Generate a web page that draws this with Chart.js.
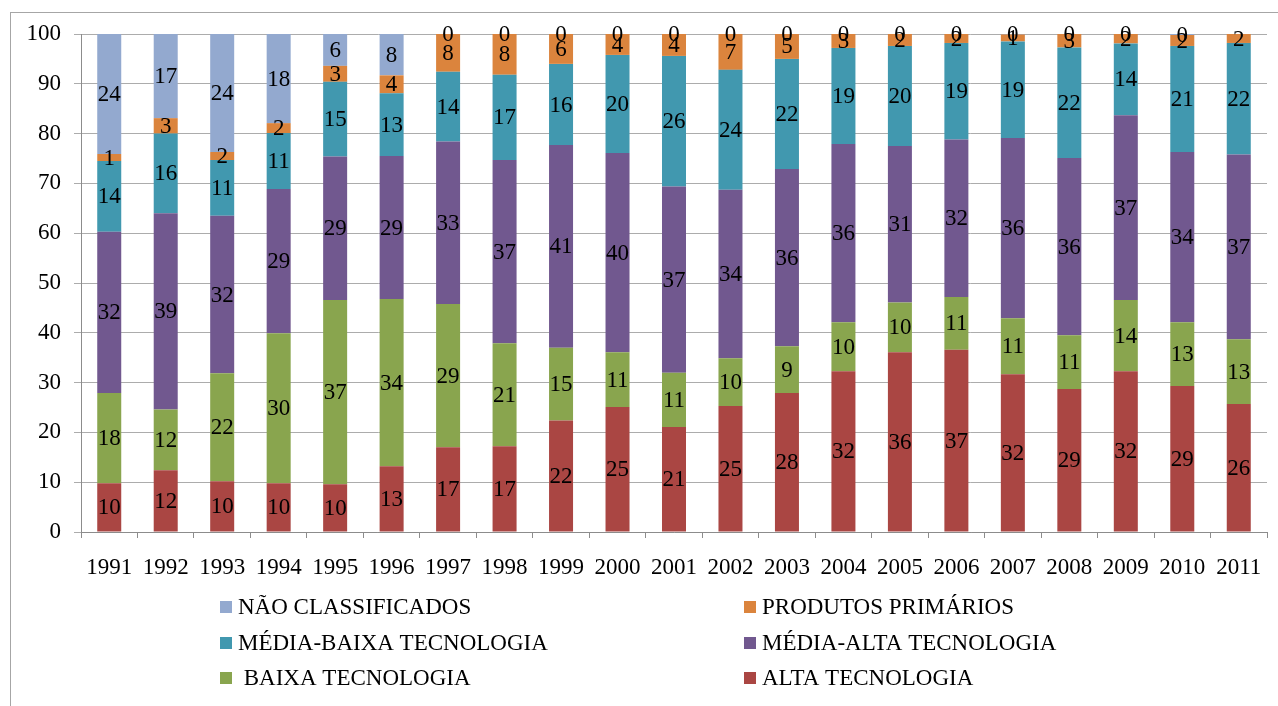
<!DOCTYPE html>
<html lang="pt">
<head>
<meta charset="utf-8">
<title>Exportações por intensidade tecnológica, 1991–2011</title>
<script src="https://cdn.jsdelivr.net/npm/chart.js@4/dist/chart.umd.min.js"></script>
<style>
  html, body { margin: 0; padding: 0; background: #ffffff; }
  #wrap { width: 1278px; height: 706px; }
</style>
</head>
<body>
<div id="wrap"><canvas id="chart" width="1278" height="706"></canvas></div>
<script>
// Years on the category axis
const years = ['1991','1992','1993','1994','1995','1996','1997','1998','1999','2000',
               '2001','2002','2003','2004','2005','2006','2007','2008','2009','2010','2011'];

// Share of each technology group (%), stacked from the bottom up
const altaTec      = [9.8, 12.4, 10.2, 9.8, 9.6, 13.2, 17.0, 17.2, 22.4, 25.1, 21.1, 25.3, 27.9, 32.3, 36.1, 36.6, 31.7, 28.7, 32.3, 29.3, 25.7];
const baixaTec     = [18.1, 12.2, 21.7, 30.1, 37.0, 33.6, 28.8, 20.7, 14.6, 11.0, 10.9, 9.6, 9.4, 9.8, 10.0, 10.6, 11.2, 10.8, 14.3, 12.8, 13.0];
const mediaAltaTec = [32.4, 39.4, 31.6, 29.0, 28.8, 28.7, 32.6, 36.8, 40.7, 40.0, 37.4, 33.8, 35.6, 35.8, 31.4, 31.6, 36.2, 35.6, 37.1, 34.2, 37.1];
const mediaBaixaTec= [14.2, 16.0, 11.2, 11.2, 15.0, 12.6, 14.0, 17.1, 16.3, 19.7, 26.2, 24.1, 22.1, 19.3, 20.1, 19.4, 19.4, 22.2, 14.4, 21.3, 22.4];
const primarios    = [1.4, 3.1, 1.6, 2.0, 3.2, 3.6, 7.6, 8.2, 6.0, 4.2, 4.4, 7.2, 5.0, 2.8, 2.4, 1.8, 1.4, 2.7, 1.9, 2.2, 1.8];
const naoClass     = [24.1, 16.9, 23.7, 17.9, 6.4, 8.3, 0, 0, 0, 0, 0, 0, 0, 0, 0, 0, 0.1, 0, 0, 0.2, null];

// Value axis ticks
const yTicks = [0, 10, 20, 30, 40, 50, 60, 70, 80, 90, 100];

const FONT = '"Liberation Serif", "Times New Roman", serif';

const datasets = [
  { label: 'ALTA TECNOLOGIA',        data: altaTec,       backgroundColor: '#AA4643' },
  { label: ' BAIXA TECNOLOGIA',      data: baixaTec,      backgroundColor: '#89A54E' },
  { label: 'MÉDIA-ALTA TECNOLOGIA',  data: mediaAltaTec,  backgroundColor: '#71588F' },
  { label: 'MÉDIA-BAIXA TECNOLOGIA', data: mediaBaixaTec, backgroundColor: '#4198AF' },
  { label: 'PRODUTOS PRIMÁRIOS',     data: primarios,     backgroundColor: '#DB843D' },
  { label: 'NÃO CLASSIFICADOS',      data: naoClass,      backgroundColor: '#93A9CF' }
].map(d => Object.assign(d, { borderWidth: 0, barPercentage: 0.425, categoryPercentage: 1.0 }));

// Outer frame of the chart object
const framePlugin = {
  id: 'frame',
  beforeDraw(chart) {
    const ctx = chart.ctx;
    ctx.save();
    ctx.fillStyle = '#ffffff';
    ctx.fillRect(0, 0, chart.width, chart.height);
    ctx.strokeStyle = '#a6a6a6';
    ctx.lineWidth = 1;
    ctx.strokeRect(10.5, 12.5, chart.width + 20, chart.height + 20);
    ctx.restore();
  }
};

// Rounded value written in the middle of every segment
const valueLabels = {
  id: 'valueLabels',
  afterDatasetsDraw(chart) {
    const ctx = chart.ctx;
    ctx.save();
    ctx.font = '23px ' + FONT;
    ctx.fillStyle = '#000000';
    ctx.textAlign = 'center';
    ctx.textBaseline = 'middle';
    chart.data.datasets.forEach((ds, i) => {
      const meta = chart.getDatasetMeta(i);
      meta.data.forEach((bar, j) => {
        const v = ds.data[j];
        if (v === null || v === undefined) return;
        const p = bar.getProps(['x', 'y', 'base'], true);
        ctx.fillText(String(Math.round(v)), p.x, (p.y + p.base) / 2 + 1);
      });
    });
    ctx.restore();
  }
};

// Two-column legend under the axis, top of the stack first
const gridLegend = {
  id: 'gridLegend',
  afterDraw(chart) {
    const ctx = chart.ctx;
    const ds = chart.data.datasets;
    const order = [5, 4, 3, 2, 1, 0];
    const colX = [220, 744];
    const rowY = [607, 643, 678];
    ctx.save();
    ctx.font = '23px ' + FONT;
    ctx.textAlign = 'left';
    ctx.textBaseline = 'middle';
    order.forEach((idx, k) => {
      const col = k % 2, row = Math.floor(k / 2);
      const x = colX[col], y = rowY[row];
      ctx.fillStyle = ds[idx].backgroundColor;
      ctx.fillRect(x, y - 6, 12, 12);
      ctx.fillStyle = '#000000';
      ctx.fillText(ds[idx].label, x + 18, y + 1);
    });
    ctx.restore();
  }
};

new Chart(document.getElementById('chart'), {
  type: 'bar',
  data: { labels: years, datasets },
  options: {
    responsive: false,
    animation: false,
    events: [],
    layout: { padding: { left: 0, right: 11, top: 34, bottom: 114 } },
    plugins: {
      legend: { display: false },
      tooltip: { enabled: false },
      title: { display: false }
    },
    scales: {
      x: {
        stacked: true,
        offset: true,
        afterFit(scale) { scale.height = 60; },
        grid: {
          display: true,
          offset: true,
          drawOnChartArea: false,
          drawTicks: true,
          tickLength: 6,
          color: '#8c8c8c',
          lineWidth: 1
        },
        border: { display: true, color: '#8c8c8c', width: 1 },
        ticks: {
          color: '#000000',
          font: { family: FONT, size: 23 },
          padding: 16,
          maxRotation: 0,
          autoSkip: false
        }
      },
      y: {
        stacked: true,
        min: 0,
        max: 100,
        afterFit(scale) { scale.width = 81; },
        afterBuildTicks(scale) { scale.ticks = yTicks.map(v => ({ value: v })); },
        grid: {
          color: '#acacac',
          lineWidth: 1,
          drawTicks: true,
          tickLength: 7
        },
        border: { display: true, color: '#8c8c8c', width: 1 },
        ticks: {
          color: '#000000',
          font: { family: FONT, size: 23 },
          padding: 13
        }
      }
    }
  },
  plugins: [framePlugin, valueLabels, gridLegend]
});
</script>
</body>
</html>
